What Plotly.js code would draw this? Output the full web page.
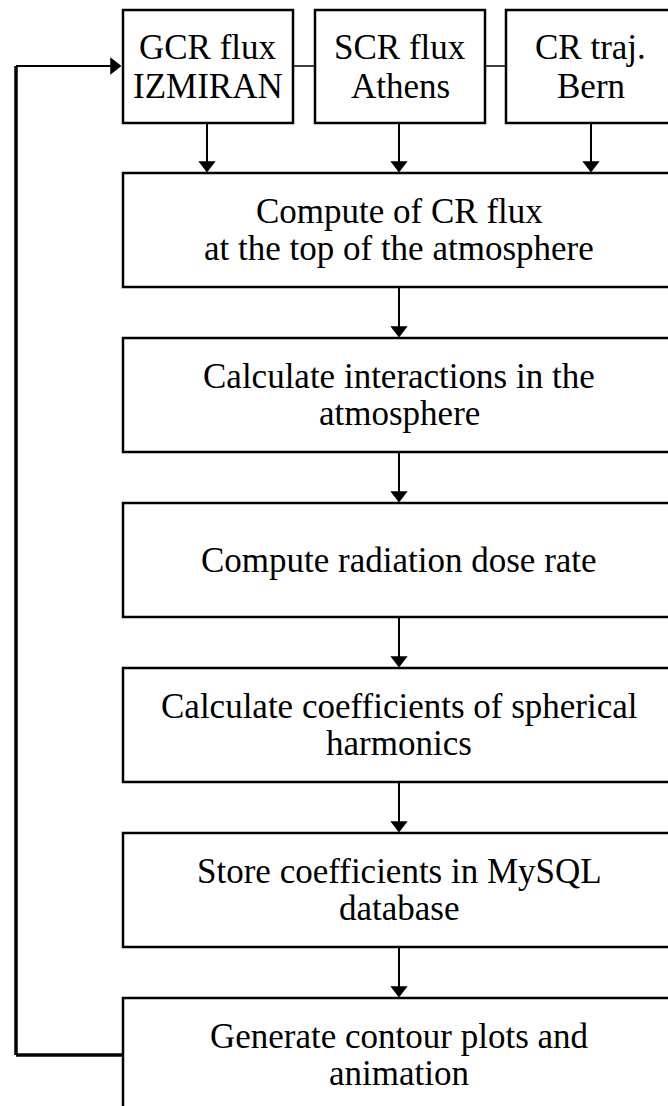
<!DOCTYPE html>
<html>
<head>
<meta charset="utf-8">
<script src="https://cdn.plot.ly/plotly-3.0.1.min.js"></script>
<style>
  html, body { margin: 0; padding: 0; background: #fff; }
  #chart { width: 668px; height: 1106px; }
</style>
</head>
<body>
<div id="chart"></div>
<script>
// source boxes along the top
const sourceLabels = ["GCR flux<br>IZMIRAN", "SCR flux<br>Athens", "CR traj.<br>Bern"];
const sourceLeft = [123, 315, 506];
const sourceRight = [293, 485, 680];
const sourceArrowX = [207, 399, 591];

// processing steps, top to bottom
const stepLabels = [
    "Compute of CR flux<br>at the top of the atmosphere",
    "Calculate interactions in the<br>atmosphere",
    "Compute radiation dose rate",
    "Calculate coefficients of spherical<br>harmonics",
    "Store coefficients in MySQL<br>database",
    "Generate contour plots and<br>animation"
];
const stepTop = [173, 338, 503, 668, 833, 998];

const W = 668, H = 1106;
const boxH = 114;
const srcTop = 10, srcBottom = 123;
const stepLeft = 123, stepRight = 690, textX = 399;
const loopX = 16, loopY = 1055, srcMidY = 66;
const linePitch = 37;
const font = { family: "Liberation Serif, Times New Roman, serif", size: 35, color: "#000" };

const shapes = [];
const annotations = [];
const traces = [];

function line(x0, y0, x1, y1, w) {
    shapes.push({ type: "line", xref: "x", yref: "y", x0: x0, y0: y0, x1: x1, y1: y1,
                  line: { color: "#000", width: w } });
}

// one annotation per text line so the spacing can be set
function label(text, x, yc, pitch) {
    const rows = text.split("<br>");
    rows.forEach(function (r, k) {
        annotations.push({ x: x, y: yc + (k - (rows.length - 1) / 2) * pitch,
                           xref: "x", yref: "y", text: r, showarrow: false, font: font });
    });
}

// source boxes
sourceLabels.forEach(function (lab, i) {
    shapes.push({ type: "rect", xref: "x", yref: "y",
                  x0: sourceLeft[i], x1: sourceRight[i], y0: srcTop, y1: srcBottom,
                  line: { color: "#000", width: 2.5 } });
    label(lab, (sourceLeft[i] + Math.min(sourceRight[i], 675)) / 2, (srcTop + srcBottom) / 2, 39);
    // arrow down to first step
    line(sourceArrowX[i], srcBottom, sourceArrowX[i], stepTop[0] - 4, 2);
});
// thin links between source boxes
for (let i = 0; i < sourceLabels.length - 1; i++) {
    line(sourceRight[i], srcMidY, sourceLeft[i + 1], srcMidY, 1.5);
}

// step boxes
stepLabels.forEach(function (lab, i) {
    const top = stepTop[i];
    const bottom = i === stepLabels.length - 1 ? H + 20 : top + boxH;
    shapes.push({ type: "rect", xref: "x", yref: "y",
                  x0: stepLeft, x1: stepRight, y0: top, y1: bottom,
                  line: { color: "#000", width: 2.5 } });
    label(lab, textX, top + boxH / 2, linePitch);
    if (i < stepLabels.length - 1) {
        line(textX, top + boxH, textX, stepTop[i + 1] - 4, 2);
    }
});

// feedback loop on the left
line(stepLeft, loopY, loopX, loopY, 3.5);
line(loopX, loopY, loopX, srcMidY, 3.5);
line(loopX, srcMidY, sourceLeft[0] - 8, srcMidY, 2);

// arrowheads as triangle markers
const headDownX = sourceArrowX.concat(stepTop.slice(1).map(function () { return textX; }));
const headDownY = sourceArrowX.map(function () { return stepTop[0] - 8; })
    .concat(stepTop.slice(1).map(function (t) { return t - 8; }));
traces.push({ type: "scatter", mode: "markers", x: headDownX, y: headDownY,
              marker: { symbol: "triangle-down", size: 15, color: "#000" },
              hoverinfo: "skip", cliponaxis: false });
traces.push({ type: "scatter", mode: "markers", x: [sourceLeft[0] - 9], y: [srcMidY],
              marker: { symbol: "triangle-right", size: 15, color: "#000" },
              hoverinfo: "skip", cliponaxis: false });

Plotly.newPlot("chart", traces, {
    width: W, height: H,
    margin: { l: 0, r: 0, t: 0, b: 0 },
    paper_bgcolor: "#fff", plot_bgcolor: "#fff",
    showlegend: false,
    xaxis: { range: [0, W], visible: false, fixedrange: true },
    yaxis: { range: [H, 0], visible: false, fixedrange: true },
    shapes: shapes,
    annotations: annotations
}, { staticPlot: true });
</script>
</body>
</html>
